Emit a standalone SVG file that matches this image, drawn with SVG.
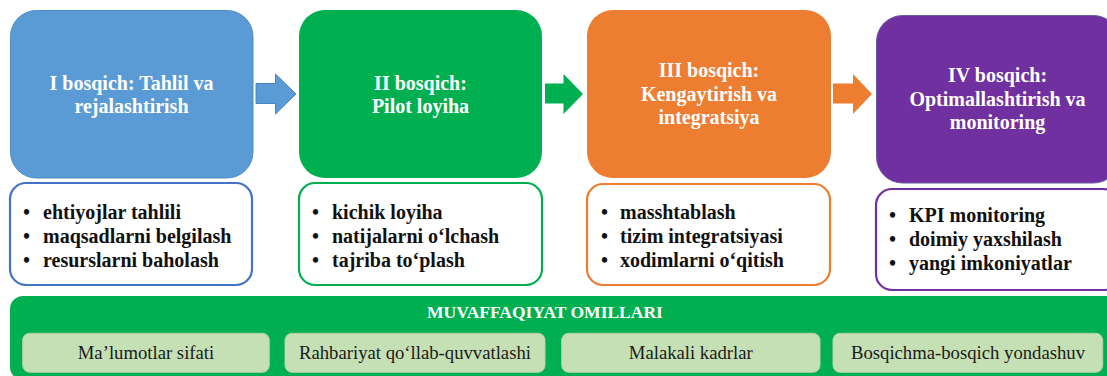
<svg xmlns="http://www.w3.org/2000/svg" width="1107" height="376" viewBox="0 0 1107 376">
  <style>
    .title { font-family: "Liberation Serif", "Times New Roman", serif; font-weight: bold; font-size: 20px; fill: #ffffff; text-anchor: middle; }
    .bul { font-family: "Liberation Serif", "Times New Roman", serif; font-weight: bold; font-size: 20px; fill: #111111; }
    .ptitle { font-family: "Liberation Serif", "Times New Roman", serif; font-weight: bold; font-size: 17.5px; fill: #ffffff; text-anchor: middle; }
    .fac { font-family: "Liberation Serif", "Times New Roman", serif; font-size: 18.7px; fill: #1a1a1a; text-anchor: middle; }
    .lst { fill: #ffffff; stroke-width: 2.2; }
    .facbox { fill: #C5E0B4; stroke: #b5d3a2; stroke-width: 1; }
  </style>
  <rect width="1107" height="376" fill="#ffffff"/>

  <g id="connectors">
    <path d="M256,83.5 H275.5 V74 L296,94 L275.5,114 V103.5 H256 Z" fill="#5B9BD5" stroke="#4a86bf" stroke-width="1"/>
    <path d="M545,83.5 H563.5 V74 L583,94 L563.5,114 V103.5 H545 Z" fill="#00B050"/>
    <path d="M833,83.5 H853 V74 L872,94 L853,114 V103.5 H833 Z" fill="#ED7D31"/>
  </g>

  <g id="stage1">
    <rect x="10.5" y="10.5" width="242.5" height="167.5" rx="26" fill="#5B9BD5" stroke="#4f8cc4" stroke-width="1"/>
    <text class="title" x="131.5" y="90">I bosqich: Tahlil va</text>
    <text class="title" x="131.5" y="113.3">rejalashtirish</text>
  </g>
  <g id="stage2">
    <rect x="299" y="10" width="243" height="168" rx="26" fill="#00B050"/>
    <text class="title" x="420.5" y="90">II bosqich:</text>
    <text class="title" x="420.5" y="113.3">Pilot loyiha</text>
  </g>
  <g id="stage3">
    <rect x="587" y="10" width="244" height="168" rx="26" fill="#ED7D31"/>
    <text class="title" x="709" y="77.3">III bosqich:</text>
    <text class="title" x="709" y="100.6">Kengaytirish va</text>
    <text class="title" x="709" y="123.9">integratsiya</text>
  </g>
  <g id="stage4">
    <rect x="876.5" y="15.5" width="243" height="167.5" rx="26" fill="#7030A0" stroke="#6a5aa0" stroke-width="1"/>
    <text class="title" x="997.5" y="82.3">IV bosqich:</text>
    <text class="title" x="997.5" y="105.6">Optimallashtirish va</text>
    <text class="title" x="997.5" y="128.9">monitoring</text>
  </g>

  <g id="list1">
    <rect class="lst" x="10" y="183" width="242" height="102" rx="16" stroke="#4472C4"/>
    <text class="bul" x="23" y="218.5">•</text><text class="bul" x="43" y="218.5">ehtiyojlar tahlili</text>
    <text class="bul" x="23" y="242.5">•</text><text class="bul" x="43" y="242.5">maqsadlarni belgilash</text>
    <text class="bul" x="23" y="266.5">•</text><text class="bul" x="43" y="266.5">resurslarni baholash</text>
  </g>
  <g id="list2">
    <rect class="lst" x="299" y="183" width="243" height="102" rx="16" stroke="#00B050"/>
    <text class="bul" x="312" y="218.5">•</text><text class="bul" x="332" y="218.5">kichik loyiha</text>
    <text class="bul" x="312" y="242.5">•</text><text class="bul" x="332" y="242.5">natijalarni o‘lchash</text>
    <text class="bul" x="312" y="266.5">•</text><text class="bul" x="332" y="266.5">tajriba to‘plash</text>
  </g>
  <g id="list3">
    <rect class="lst" x="587" y="184" width="243" height="101" rx="16" stroke="#ED7D31"/>
    <text class="bul" x="601" y="218.5">•</text><text class="bul" x="620" y="218.5">masshtablash</text>
    <text class="bul" x="601" y="242.5">•</text><text class="bul" x="620" y="242.5">tizim integratsiyasi</text>
    <text class="bul" x="601" y="266.5">•</text><text class="bul" x="620" y="266.5">xodimlarni o‘qitish</text>
  </g>
  <g id="list4">
    <rect class="lst" x="876" y="189" width="243" height="101" rx="16" stroke="#7030A0"/>
    <text class="bul" x="889" y="221.5">•</text><text class="bul" x="909" y="221.5">KPI monitoring</text>
    <text class="bul" x="889" y="245.5">•</text><text class="bul" x="909" y="245.5">doimiy yaxshilash</text>
    <text class="bul" x="889" y="269.5">•</text><text class="bul" x="909" y="269.5">yangi imkoniyatlar</text>
  </g>

  <g id="factors">
    <rect x="10" y="296" width="1110" height="84" rx="13" fill="#00B050"/>
    <text class="ptitle" x="545" y="317.7">MUVAFFAQIYAT OMILLARI</text>
    <g id="factor1">
      <rect class="facbox" x="22.7" y="333.3" width="246.6" height="39" rx="7"/>
      <text class="fac" x="146" y="359.3">Ma’lumotlar sifati</text>
    </g>
    <g id="factor2">
      <rect class="facbox" x="285" y="333.3" width="260" height="39" rx="7"/>
      <text class="fac" x="415" y="359.3">Rahbariyat qo‘llab-quvvatlashi</text>
    </g>
    <g id="factor3">
      <rect class="facbox" x="561.7" y="333.3" width="258.3" height="39" rx="7"/>
      <text class="fac" x="690.8" y="359.3">Malakali kadrlar</text>
    </g>
    <g id="factor4">
      <rect class="facbox" x="833" y="333.3" width="269.7" height="39" rx="7"/>
      <text class="fac" x="968" y="359.3">Bosqichma-bosqich yondashuv</text>
    </g>
  </g>
</svg>
